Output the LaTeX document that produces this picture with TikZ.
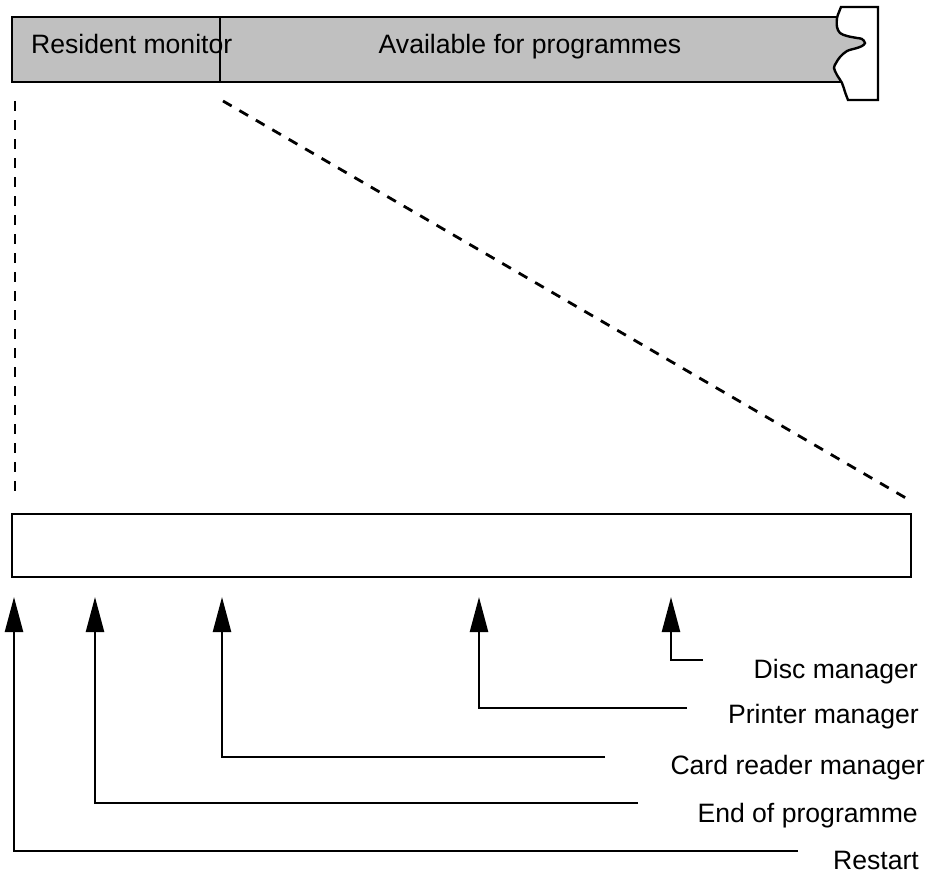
\documentclass[tikz,border=0pt]{standalone}
\usepackage{fontspec}
\setmainfont{Liberation Sans}
\usetikzlibrary{arrows.meta}
\definecolor{barg}{HTML}{C0C0C0}
\begin{document}
\begin{tikzpicture}[x=0.5pt,y=-0.5pt,line width=1.2pt,
  txt/.style={inner sep=0pt, font=\fontsize{13.3}{16}\selectfont},
  arr/.style={-{Triangle[width=9pt,length=17.5pt]}},
  dline/.style={line width=1.4pt, dash pattern=on 5pt off 4.5pt},
  membox/.style={draw, inner sep=0pt, outer sep=0pt, anchor=north west,
    minimum width=449.5pt, minimum height=31.5pt}
]
\useasboundingbox (0,0) rectangle (930,872);
\fill[white] (0,0) rectangle (930,872);
% top memory bar
\draw[fill=barg] (12,17) rectangle (870,82);
\draw (220,17) -- (220,82);
\draw[fill=white] plot[smooth, tension=0.55] coordinates {(841,7) (839,12) (837,18) (837,27) (840,33) (847,36) (857,38) (862,39) (865,43) (862,46) (857,48) (847,51) (840,57) (836,63) (834,68) (837,75) (842,83) (845,92) (848,100)} -- (878,100) -- (878,7) -- cycle;
\node[txt, anchor=base west] (rm) at (30,54) {Resident monitor};
\node[txt, anchor=base] (av) at (530,54) {Available for programmes};
% expansion lines
\coordinate (l1) at (15,101);
\coordinate (l2) at (15,500);
\coordinate (r1) at (223,101);
\coordinate (r2) at (911,501);
\draw[dline] (l1) -- (l2);
\draw[dline] (r1) -- (r2);
% expanded monitor
\node[membox] (mem) at (12,514) {};
% labels
\node[txt, anchor=base east] (disc) at (919,678) {Disc manager};
\node[txt, anchor=base east] (prn) at (920,723) {Printer manager};
\node[txt, anchor=base east] (card) at (926,774) {Card reader manager};
\node[txt, anchor=base east] (eop) at (919,822) {End of programme};
\node[txt, anchor=base east] (rst) at (920,869) {Restart};
% connector ends
\coordinate (ds) at (703,660);  \coordinate (dt) at (671,597);
\coordinate (ps) at (687,708);  \coordinate (pt) at (479,597);
\coordinate (cs) at (605,757);  \coordinate (ct) at (222,597);
\coordinate (es) at (638,803);  \coordinate (et) at (95,597);
\coordinate (rs) at (798,851);  \coordinate (rt) at (14,597);
\draw[arr] (ds) -| (dt);
\draw[arr] (ps) -| (pt);
\draw[arr] (cs) -| (ct);
\draw[arr] (es) -| (et);
\draw[arr] (rs) -| (rt);
\end{tikzpicture}
\end{document}
